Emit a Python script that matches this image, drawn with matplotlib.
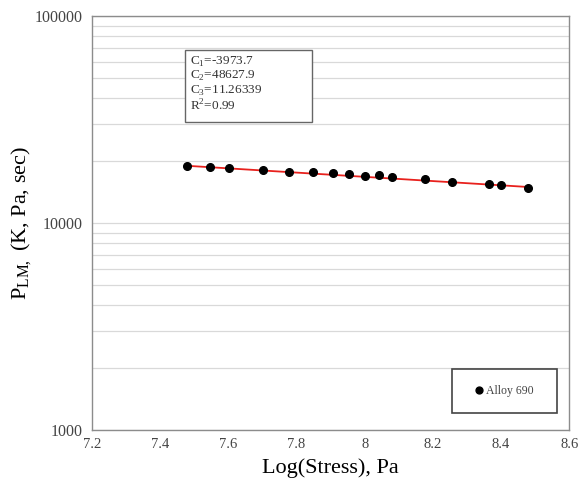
import numpy as np
import matplotlib
matplotlib.use("Agg")
from matplotlib import pyplot as plt
from matplotlib.patches import Rectangle
from matplotlib.ticker import LogLocator, FixedLocator, NullFormatter

plt.rcParams['font.family'] = ['Liberation Serif', 'DejaVu Serif']
plt.rcParams['mathtext.fontset'] = 'custom'
plt.rcParams['mathtext.rm'] = 'Liberation Serif'

# data
log_stress = [7.478, 7.546, 7.603, 7.701, 7.779, 7.848, 7.906, 7.955,
              8.002, 8.043, 8.081, 8.178, 8.257, 8.364, 8.400, 8.478]
p_lm = [18915, 18700, 18380, 18030, 17690, 17570, 17380, 17240,
        16920, 17000, 16740, 16260, 15830, 15430, 15260, 14810]

C1 = -3973.7
C2 = 48627.9
C3 = 11.26339
R2 = 0.99

x_ticks = [7.2, 7.4, 7.6, 7.8, 8.0, 8.2, 8.4, 8.6]
x_tick_labels = ["7.2", "7.4", "7.6", "7.8", "8", "8.2", "8.4", "8.6"]
y_ticks = [1000, 10000, 100000]

fig = plt.figure(figsize=(5.82, 4.87), dpi=100)
ax = fig.add_axes([0.158, 0.117, 0.82, 0.85])

x_fit = np.array([min(log_stress), max(log_stress)])
ax.plot(x_fit, C1 * x_fit + C2, color="#e8211d", lw=1.3, zorder=3)
ax.plot(log_stress, p_lm, "o", color="black", ms=5.5, zorder=4,
        label="Alloy 690")

ax.set_yscale("log")
ax.set_xlim(7.2, 8.6)
ax.set_ylim(1000, 100000)
ax.set_xticks(x_ticks)
ax.set_xticklabels(x_tick_labels)
ax.yaxis.set_major_locator(FixedLocator(y_ticks))
ax.set_yticklabels([str(v) for v in y_ticks])
ax.yaxis.set_minor_locator(LogLocator(base=10, subs=np.arange(2, 10)))
ax.yaxis.set_minor_formatter(NullFormatter())
ax.grid(True, which="both", axis="y", color="#d9d9d9", lw=0.9, zorder=0)
ax.tick_params(axis="x", which="both", length=0, labelsize=10.5,
               labelcolor="#444444", pad=6)
ax.tick_params(axis="y", which="both", length=0, labelsize=11.5,
               labelcolor="#444444", pad=7)
for s in ax.spines.values():
    s.set_color("#8c8c8c")
    s.set_linewidth(1.0)

ax.set_xlabel("Log(Stress), Pa", fontsize=16, labelpad=5)
ax.set_ylabel(r"P$_{\mathregular{LM,}}$ (K, Pa, sec)", fontsize=16)
ax.yaxis.set_label_coords(-0.122, 0.5)

# coefficient box
ax.add_patch(Rectangle((0.195, 0.744), 0.266, 0.174, transform=ax.transAxes,
                       facecolor="white", edgecolor="#666666", lw=1.0, zorder=5))
txt = (r"C$_{\mathregular{1}}$=" + f"{C1}" + "\n" +
       r"C$_{\mathregular{2}}$=" + f"{C2}" + "\n" +
       r"C$_{\mathregular{3}}$=" + f"{C3}" + "\n" +
       r"R$^{\mathregular{2}}$=" + f"{R2}")
ax.text(0.205, 0.907, txt, transform=ax.transAxes, fontsize=9.5,
        va="top", ha="left", linespacing=1.05, color="#333333", zorder=6)

# legend box
ax.add_patch(Rectangle((0.755, 0.041), 0.22, 0.106, transform=ax.transAxes,
                       facecolor="white", edgecolor="#444444", lw=1.2, zorder=5))
leg = ax.legend(loc="center", bbox_to_anchor=(0.865, 0.094), frameon=False,
                fontsize=8.5, handlelength=0.6, handletextpad=0.3,
                markerscale=0.9)
leg.set_zorder(6)
for t in leg.get_texts():
    t.set_color("#444444")

fig.savefig("out.png", dpi=100)
